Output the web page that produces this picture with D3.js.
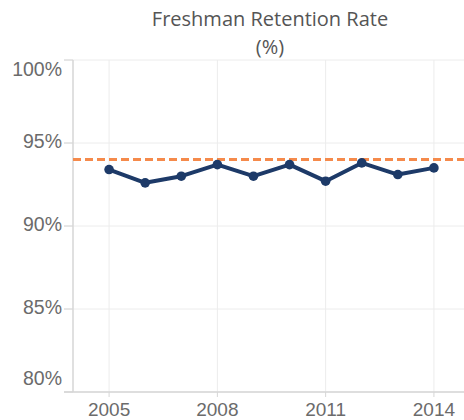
<!DOCTYPE html>
<html>
<head>
<meta charset="utf-8">
<script src="https://cdn.jsdelivr.net/npm/d3@7"></script>
<style>
  body { margin: 0; background: #fff; }
  svg { display: block; }
</style>
</head>
<body>
<div id="container"></div>
<script>
// data
const years = [2005, 2006, 2007, 2008, 2009, 2010, 2011, 2012, 2013, 2014];
const retention = [93.4, 92.6, 93.0, 93.7, 93.0, 93.7, 92.7, 93.8, 93.1, 93.5];
const target = 94;
const yTicks = [80, 85, 90, 95, 100];
const xTicks = [2005, 2008, 2011, 2014];
const titleLines = ["Freshman Retention Rate", "(%)"];

const width = 464, height = 420;
const svg = d3.select("#container").append("svg")
    .attr("width", width)
    .attr("height", height);

// scales
const x = d3.scaleLinear().domain([2004, 2015]).range([73, 470]);
const y = d3.scaleLinear().domain([80, 100]).range([392, 60]);

const gridColor = "#ececec";
const axisColor = "#d6d6d6";

// horizontal grid
svg.append("g").selectAll("line")
    .data(yTicks)
    .join("line")
    .attr("x1", 64).attr("x2", width)
    .attr("y1", d => y(d)).attr("y2", d => y(d))
    .attr("stroke", gridColor).attr("stroke-width", 1);

// vertical grid
svg.append("g").selectAll("line")
    .data(xTicks)
    .join("line")
    .attr("x1", d => x(d)).attr("x2", d => x(d))
    .attr("y1", 60).attr("y2", 392)
    .attr("stroke", gridColor).attr("stroke-width", 1);

// axis lines
svg.append("line")
    .attr("x1", 73).attr("x2", 73).attr("y1", 60).attr("y2", 392)
    .attr("stroke", axisColor).attr("stroke-width", 1.5);
svg.append("line")
    .attr("x1", 64).attr("x2", width).attr("y1", 392).attr("y2", 392)
    .attr("stroke", axisColor).attr("stroke-width", 1.5);

// y tick marks
svg.append("g").selectAll("line")
    .data(yTicks)
    .join("line")
    .attr("x1", 64).attr("x2", 73)
    .attr("y1", d => y(d)).attr("y2", d => y(d))
    .attr("stroke", axisColor).attr("stroke-width", 1);

// x tick marks
svg.append("g").selectAll("line")
    .data(xTicks)
    .join("line")
    .attr("x1", d => x(d)).attr("x2", d => x(d))
    .attr("y1", 392).attr("y2", 397)
    .attr("stroke", axisColor).attr("stroke-width", 1);

// y labels, end ones kept inside the plot range (like the original)
svg.append("g").selectAll("text")
    .data(yTicks)
    .join("text")
    .attr("x", 62)
    .attr("y", d => {
        if (d === 100) return y(d) + 16;
        if (d === 80) return y(d) - 7;
        return y(d) + 4.5;
    })
    .attr("text-anchor", "end")
    .attr("font-family", "'Liberation Sans', Arial, sans-serif")
    .attr("font-size", 19.5)
    .attr("fill", "#6b6b6b")
    .text(d => d + "%");

// x labels
svg.append("g").selectAll("text")
    .data(xTicks)
    .join("text")
    .attr("x", d => x(d))
    .attr("y", 416)
    .attr("text-anchor", "middle")
    .attr("font-family", "'Liberation Sans', Arial, sans-serif")
    .attr("font-size", 19)
    .attr("fill", "#6b6b6b")
    .text(d => d);

// title
svg.append("text")
    .attr("text-anchor", "middle")
    .attr("font-family", "'Open Sans', sans-serif")
    .attr("font-size", 20)
    .attr("fill", "#555")
    .selectAll("tspan")
    .data(titleLines)
    .join("tspan")
    .attr("x", 270)
    .attr("y", (d, i) => 26 + i * 28)
    .text(d => d);

// target line
svg.append("line")
    .attr("x1", 73).attr("x2", width)
    .attr("y1", y(target)).attr("y2", y(target))
    .attr("stroke", "#f58a4b")
    .attr("stroke-width", 3)
    .attr("stroke-dasharray", "8,4");

// series
const points = years.map((yr, i) => [yr, retention[i]]);
const line = d3.line().x(d => x(d[0])).y(d => y(d[1]));

svg.append("path")
    .datum(points)
    .attr("d", line)
    .attr("fill", "none")
    .attr("stroke", "#1d3a68")
    .attr("stroke-width", 4)
    .attr("stroke-linejoin", "round");

svg.append("g").selectAll("circle")
    .data(points)
    .join("circle")
    .attr("cx", d => x(d[0]))
    .attr("cy", d => y(d[1]))
    .attr("r", 4.8)
    .attr("fill", "#1d3a68");
</script>
</body>
</html>
